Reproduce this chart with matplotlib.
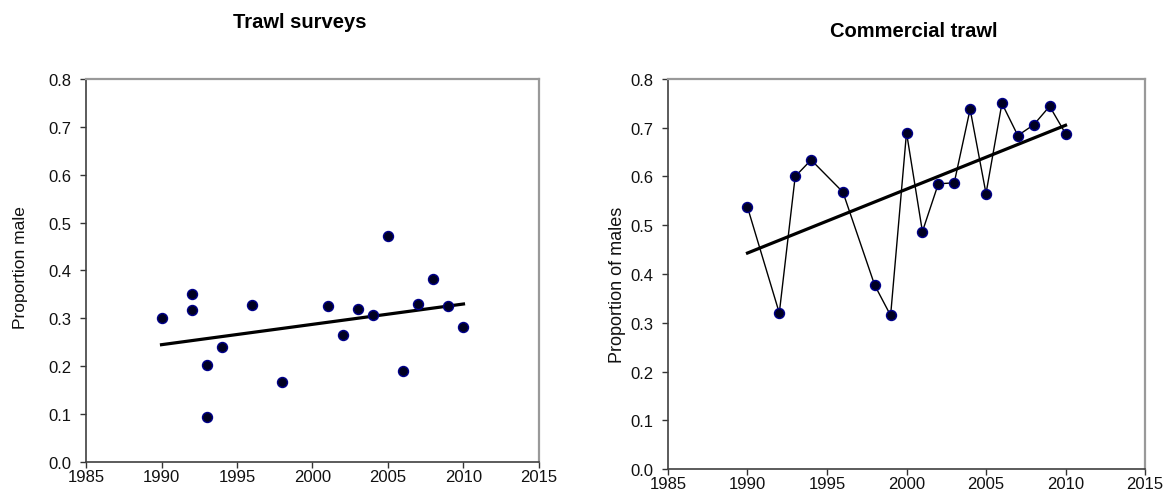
import matplotlib
matplotlib.use("Agg")
import matplotlib.pyplot as plt

plt.rcParams['font.family'] = ['Liberation Sans', 'DejaVu Sans']

# Trawl surveys
survey_years = [1990, 1992, 1992, 1993, 1993, 1994, 1996, 1998, 2001, 2002,
                2003, 2004, 2005, 2006, 2007, 2008, 2009, 2010]
survey_prop = [0.300, 0.350, 0.317, 0.203, 0.095, 0.240, 0.328, 0.168, 0.325, 0.265,
               0.320, 0.308, 0.473, 0.190, 0.330, 0.383, 0.325, 0.282]
survey_trend_years = [1990, 2010]
survey_trend_vals = [0.245, 0.330]

# Commercial trawl
comm_years = [1990, 1992, 1993, 1994, 1996, 1998, 1999, 2000, 2001, 2002,
              2003, 2004, 2005, 2006, 2007, 2008, 2009, 2010]
comm_prop = [0.537, 0.320, 0.600, 0.634, 0.568, 0.377, 0.315, 0.690, 0.487, 0.585,
             0.587, 0.738, 0.565, 0.750, 0.684, 0.706, 0.744, 0.688]
comm_trend_years = [1990, 2010]
comm_trend_vals = [0.443, 0.705]

x_ticks = [1985, 1990, 1995, 2000, 2005, 2010, 2015]
y_ticks = [0.0, 0.1, 0.2, 0.3, 0.4, 0.5, 0.6, 0.7, 0.8]

fig = plt.figure(figsize=(11.75, 5.02), dpi=100)
ax1 = fig.add_axes([0.0732, 0.0777, 0.3855, 0.763])
ax2 = fig.add_axes([0.5685, 0.0637, 0.406, 0.777])

mk = dict(marker='o', markersize=7.2, markerfacecolor='#000022',
          markeredgecolor='#00008B', markeredgewidth=1.0)

def style(ax, ylabel, lx, ly, lsize):
    ax.set_xlim(1985, 2015)
    ax.set_ylim(0.0, 0.8)
    ax.set_xticks(x_ticks)
    ax.set_yticks(y_ticks)
    ax.set_yticklabels([f"{v:.1f}" for v in y_ticks])
    ax.tick_params(direction='out', length=4.3, width=1, labelsize=12,
                   color='#333333', labelcolor='#111111')
    ax.tick_params(axis='x', pad=1)
    ax.tick_params(axis='y', pad=6)
    for s in ['left', 'bottom']:
        ax.spines[s].set_color('#404040')
        ax.spines[s].set_linewidth(1.2)
    for s in ['top', 'right']:
        ax.spines[s].set_color('#999999')
        ax.spines[s].set_linewidth(1.6)
    ax.set_ylabel(ylabel, fontsize=lsize, color='#111111')
    ax.yaxis.set_label_coords(lx, ly)

ax1.plot(survey_trend_years, survey_trend_vals, color='black', lw=2.3, zorder=2)
ax1.plot(survey_years, survey_prop, linestyle='none', zorder=3, **mk)
style(ax1, 'Proportion male', -0.128, 0.509, 12.5)
fig.text(300 / 1175, 1 - 22 / 502, 'Trawl surveys', ha='center', va='center',
         fontsize=14.5, fontweight='bold')

ax2.plot(comm_trend_years, comm_trend_vals, color='black', lw=2.3, zorder=2)
ax2.plot(comm_years, comm_prop, color='black', lw=1.0, zorder=3, **mk)
style(ax2, 'Proportion of males', -0.088, 0.474, 13)
fig.text(914 / 1175, 1 - 32 / 502, 'Commercial trawl', ha='center', va='center',
         fontsize=14.5, fontweight='bold')

fig.savefig('out.png', dpi=100)
